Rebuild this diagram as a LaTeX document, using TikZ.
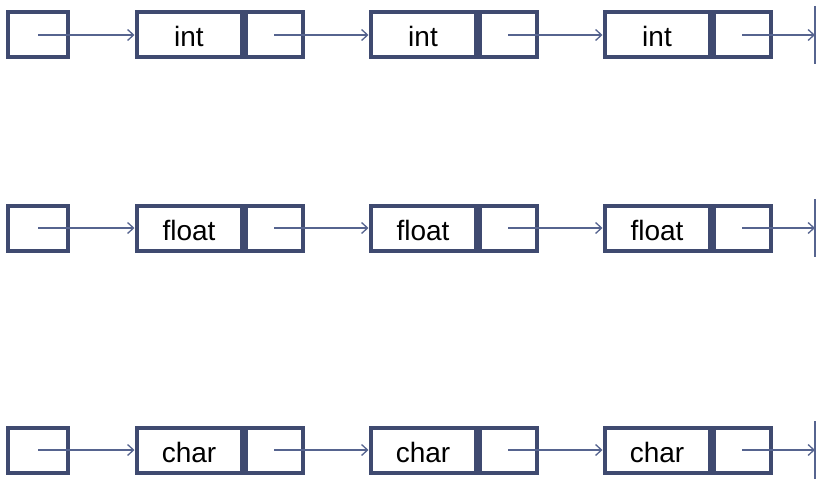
\documentclass[tikz,border=0pt]{standalone}
\usepackage{fontspec}
\setmainfont{Liberation Sans}
\usetikzlibrary{positioning}
\usetikzlibrary{arrows.meta}
\definecolor{boxline}{HTML}{3F4A70}
\definecolor{linkline}{HTML}{56648F}
\tikzset{>={Straight Barb[length=6pt,width=11pt]}}

\begin{document}
\begin{tikzpicture}[x=1pt, y=-1pt]
        % h = head pointer, a/b/c = data cells, pa/pb/pc = next-pointer cells
        \tikzstyle{cell}=[rectangle, draw=boxline, line width=4pt, minimum height=45pt, inner sep=0pt]
        \tikzstyle{datacell}=[cell, minimum width=105pt, font=\fontsize{28}{32}\selectfont, text height=24pt, text depth=0pt]
        \tikzstyle{ptrcell}=[cell, minimum width=57pt]
        \tikzstyle{link}=[linkline, ->, line width=1.3pt]
        \useasboundingbox (0,0) rectangle (825,487);
        \foreach \r/\y/\t in {1/35/int, 2/228/float, 3/450/char} {
                \node[ptrcell, minimum width=60pt] (h\r) at (38,\y) {};
                \node[datacell] (a\r) at (189,\y) {\t};
                \node[ptrcell] (pa\r) [right=0pt of a\r] {};
                \node[datacell] (b\r) at (423,\y) {\t};
                \node[ptrcell] (pb\r) [right=0pt of b\r] {};
                \node[datacell] (c\r) at (657,\y) {\t};
                \node[ptrcell] (pc\r) [right=0pt of c\r] {};
                \coordinate (nil\r) at (815,\y);
                \draw[link] (h\r.center) -- (a\r.west);
                \draw[link] (pa\r.center) -- (b\r.west);
                \draw[link] (pb\r.center) -- (c\r.west);
                \draw[link] (pc\r.center) -- (nil\r);
                \draw[linkline, line width=1.5pt] ([yshift=29pt]nil\r) -- ([yshift=-29pt]nil\r);
        }
\end{tikzpicture}
\end{document}
